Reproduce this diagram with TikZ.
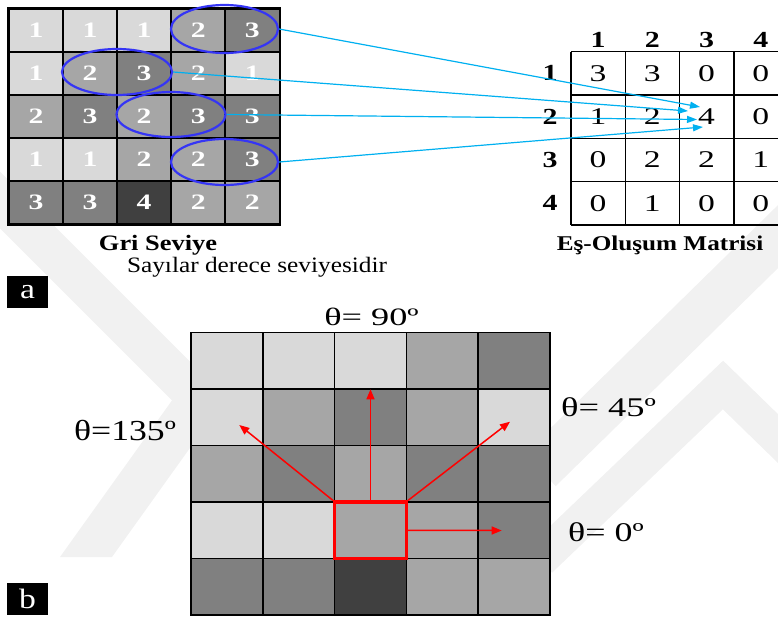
\documentclass[tikz,border=0pt]{standalone}
\usepackage{fontspec}
\setmainfont{Liberation Serif}
\usetikzlibrary{arrows.meta,shapes.geometric}
\definecolor{g1}{HTML}{D9D9D9}
\definecolor{g2}{HTML}{A6A6A6}
\definecolor{g3}{HTML}{808080}
\definecolor{g4}{HTML}{404040}
\definecolor{ellblue}{HTML}{3535F5}
\definecolor{cyanline}{HTML}{00B0F0}
\definecolor{wmgray}{HTML}{F1F1F1}
\newcommand{\hs}[2]{\scalebox{#1}[1]{#2}}
\tikzset{
  wm/.style={draw=wmgray, line cap=butt},
  cellA/.style={rectangle, draw=black, line width=1.5pt, minimum width=54.06pt, minimum height=43pt, inner sep=0pt, text=white, font=\fontsize{22}{22}\selectfont\bfseries},
  cellB/.style={rectangle, draw=black, line width=1.5pt, minimum width=71.8pt, minimum height=56.46pt, inner sep=0pt},
  mcell/.style={rectangle, minimum width=54.25pt, minimum height=43.3pt, inner sep=0pt, font=\fontsize{24}{24}\selectfont},
  mline/.style={draw=black, line width=1.5pt},
  mhead/.style={inner sep=0pt, font=\fontsize{23}{23}\selectfont\bfseries},
  ell/.style={ellipse, draw=ellblue, line width=2.2pt, inner sep=0pt},
  cyanarrow/.style={draw=cyanline, line width=1.2pt, -{Triangle[length=10pt,width=7pt]}},
  redarrow/.style={draw=red, line width=1.5pt, -{Triangle[length=10pt,width=8pt]}},
  labbox/.style={fill=black, text=white, minimum width=41pt, minimum height=32pt, inner sep=0pt, font=\fontsize{28}{28}\selectfont},
  theta/.style={inner sep=0pt, anchor=base},
  caption/.style={inner sep=0pt, anchor=base, font=\fontsize{22}{22}\selectfont}
}
\begin{document}
\begin{tikzpicture}[x=1pt,y=-1pt]
\useasboundingbox (0,0) rectangle (778,619);
% faint watermark
\draw[wm, line width=40pt] (-30,170) -- (215,415);
\fill[wmgray] (60,557) -- (112,557) -- (260,350) -- (208,350) -- cycle;
\draw[wm, line width=45pt] (800,215) -- (540,470);
\draw[wm, line width=35pt, line join=miter] (540,560) -- (723,385) -- (800,460);

% top grid
\foreach \row [count=\r from 0] in {{1,1,1,2,3},{1,2,3,2,1},{2,3,2,3,3},{1,1,2,2,3},{3,3,4,2,2}} {
  \foreach \v [count=\c from 0] in \row {
    \node[cellA, fill=g\v] (t-\r-\c) at ({9+54.06*(\c+0.5)}, {9+43*(\r+0.5)}) {\hs{1.35}{\v}};
  }
}
\draw[line width=2.2pt] (t-0-0.north west) rectangle (t-4-4.south east);

% ellipses
\node[ell, minimum width=107pt, minimum height=48pt] (e1) at (224.5,29) {};
\node[ell, minimum width=110pt, minimum height=46pt] (e2) at (117,72) {};
\node[ell, minimum width=109pt, minimum height=45pt] (e3) at (171,114.5) {};
\node[ell, minimum width=107pt, minimum height=46pt] (e4) at (224.5,162) {};

% co-occurrence matrix (right edge runs off the picture)
\foreach \i in {0,...,4} {
  \draw[mline] (571,{51.7+43.3*\i}) -- (780,{51.7+43.3*\i});
}
\foreach \i in {0,...,3} {
  \draw[mline] ({571+54.25*\i},51.7) -- ({571+54.25*\i},224.9);
}
\foreach \row [count=\r from 0] in {{3,3,0,0},{1,2,4,0},{0,2,2,1},{0,1,0,0}} {
  \foreach \v [count=\c from 0] in \row {
    \node[mcell] (m-\r-\c) at ({571+54.25*(\c+0.5)}, {51.7+43.3*(\r+0.5)}) {\hs{1.4}{\v}};
  }
}
\foreach \c [count=\i from 0] in {1,2,3,4} {
  \node[mhead] (ch-\c) at ({571+54.25*(\i+0.5)}, 39.5) {\hs{1.3}{\c}};
  \node[mhead] (rh-\c) at (550, {51.7+43.3*(\i+0.5)}) {\hs{1.3}{\c}};
}

% cyan arrows
\coordinate (tip1) at (700,107);
\coordinate (tip2) at (688,111);
\coordinate (tip3) at (697,119.5);
\coordinate (tip4) at (703,127);
\draw[cyanarrow] (e1.east) -- (tip1);
\draw[cyanarrow] (e2.east) -- (tip2);
\draw[cyanarrow] (e3.east) -- (tip3);
\draw[cyanarrow] (e4.east) -- (tip4);

% captions
\node[caption, font=\fontsize{22}{22}\selectfont\bfseries] (cap1) at (158,250) {\hs{1.2}{Gri Seviye}};
\node[caption] (cap2) at (257,272) {\hs{1.15}{Sayılar derece seviyesidir}};
\node[caption, font=\fontsize{21}{21}\selectfont\bfseries] (cap3) at (660,250) {\hs{1.2}{Eş-Oluşum Matrisi}};

% panel labels
\node[labbox] (la) at (27.5,292) {\hs{1.2}{a}};
\node[labbox] (lb) at (27.5,599) {\hs{1.2}{b}};

% bottom grid
\foreach \row [count=\r from 0] in {{1,1,1,2,3},{1,2,3,2,1},{2,3,2,3,3},{1,1,2,2,3},{3,3,4,2,2}} {
  \foreach \v [count=\c from 0] in \row {
    \node[cellB, fill=g\v] (b-\r-\c) at ({191+71.8*(\c+0.5)}, {332.7+56.46*(\r+0.5)}) {};
  }
}
\node[rectangle, draw=red, line width=3.5pt, minimum width=71.8pt, minimum height=56.46pt, inner sep=0pt] (rb) at (b-3-2) {};

% red arrows
\coordinate (a90) at (370.5,389.3);
\coordinate (a135) at (239.3,425);
\coordinate (a45) at (510,421.7);
\coordinate (a0) at (501.7,530.5);
\draw[redarrow] (rb.north) -- (a90);
\draw[redarrow] (rb.north west) -- (a135);
\draw[redarrow] (rb.north east) -- (a45);
\draw[redarrow] (rb.east) -- (a0);

% theta labels
\node[theta, font=\fontsize{25}{25}\selectfont] (t90) at (371.5,325) {\hs{1.45}{θ= 90º}};
\node[theta, font=\fontsize{29}{29}\selectfont] (t135) at (125,440) {\hs{1.23}{θ=135º}};
\node[theta, font=\fontsize{27}{27}\selectfont] (t45) at (608.5,416) {\hs{1.35}{θ= 45º}};
\node[theta, font=\fontsize{27}{27}\selectfont] (t0) at (606,541) {\hs{1.33}{θ= 0º}};
\end{tikzpicture}
\end{document}
